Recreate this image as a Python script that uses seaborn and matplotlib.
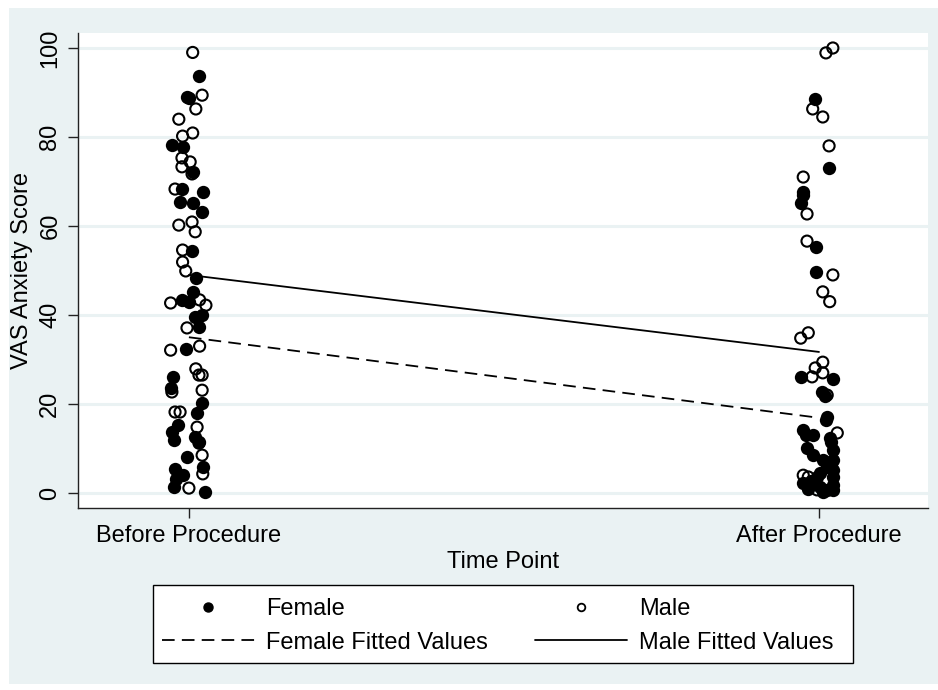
import matplotlib
matplotlib.use("Agg")
import matplotlib.pyplot as plt
import seaborn as sns
import pandas as pd
from matplotlib.lines import Line2D
from matplotlib.patches import Rectangle

# ---------------- data ----------------
time_labels = ["Before Procedure", "After Procedure"]
time_codes = [0, 1]

female_before_vas = [93.6, 88.7, 88.9, 78.2, 77.8, 72.1, 68.3, 67.6, 65.4, 65.2, 63.2, 54.4,
                     48.3, 45.2, 43.4, 43.0, 39.6, 40.0, 37.4, 32.3, 26.1, 23.6, 20.2, 18.0,
                     15.3, 13.7, 11.9, 12.6, 11.5, 8.1, 5.8, 5.4, 4.0, 3.1, 1.3, 0.2]
female_before_jitter = [0.016, 0.000, -0.003, -0.027, -0.010, 0.006, -0.011, 0.022, -0.014, 0.006,
                        0.021, 0.005, 0.011, 0.006, -0.011, 0.000, 0.010, 0.021, 0.016, -0.005,
                        -0.025, -0.029, 0.021, 0.013, -0.017, -0.027, -0.024, 0.010, 0.016,
                        -0.003, 0.022, -0.022, -0.010, -0.021, -0.024, 0.025]

male_before_vas = [99.0, 89.4, 86.3, 84.0, 80.9, 80.2, 75.3, 74.4, 73.3, 71.7, 68.3, 60.9,
                   60.2, 58.7, 54.6, 51.9, 49.9, 42.7, 43.4, 42.2, 37.1, 32.1, 33.0, 27.9,
                   26.5, 26.5, 23.1, 22.7, 18.2, 18.2, 14.8, 11.2, 8.5, 4.3, 1.1]
male_before_jitter = [0.006, 0.021, 0.011, -0.016, 0.006, -0.010, -0.011, 0.002, -0.011, 0.005,
                      -0.022, 0.005, -0.016, 0.010, -0.010, -0.010, -0.005, -0.029, 0.017, 0.027,
                      -0.003, -0.029, 0.017, 0.011, 0.021, 0.016, 0.021, -0.027, -0.022, -0.014,
                      0.013, 0.016, 0.021, 0.022, 0.000]

female_after_vas = [88.5, 73.0, 67.6, 67.0, 65.2, 55.3, 49.6, 26.1, 25.6, 22.7, 21.8, 17.1,
                    16.3, 14.2, 13.0, 13.0, 12.4, 11.5, 10.1, 9.7, 8.5, 7.4, 7.4, 6.5, 5.8,
                    5.2, 4.5, 3.6, 3.6, 2.8, 2.2, 1.8, 1.3, 1.0, 0.7, 0.7, 0.2]
female_after_jitter = [-0.006, 0.016, -0.025, -0.025, -0.029, -0.005, -0.005, -0.029, 0.022,
                       0.005, 0.010, 0.013, 0.011, -0.025, -0.021, -0.010, 0.017, 0.019, -0.019,
                       0.022, -0.010, 0.006, 0.022, 0.019, 0.013, 0.022, 0.002, -0.003, 0.022,
                       -0.013, -0.025, 0.022, 0.002, -0.017, 0.013, 0.022, 0.006]

male_after_vas = [100.0, 98.9, 86.3, 84.5, 78.0, 71.0, 62.7, 56.6, 49.0, 45.2, 43.0, 36.0,
                  34.8, 29.4, 28.1, 27.0, 26.1, 22.0, 13.5, 4.0, 3.6, 1.3, 0.7]
male_after_jitter = [0.022, 0.011, -0.010, 0.006, 0.016, -0.025, -0.019, -0.019, 0.022, 0.006,
                     0.017, -0.017, -0.029, 0.006, -0.006, 0.006, -0.011, 0.013, 0.029, -0.025,
                     -0.017, -0.017, -0.003]

female_fitted = [35.0, 16.9]
male_fitted = [49.0, 31.7]

y_ticks = [0, 20, 40, 60, 80, 100]

# ---------------- build tables ----------------
def make_points(base, vas, jit, sex):
    return pd.DataFrame({"time": [base + j for j in jit], "vas": vas, "sex": sex})

points = pd.concat([
    make_points(time_codes[0], female_before_vas, female_before_jitter, "Female"),
    make_points(time_codes[1], female_after_vas, female_after_jitter, "Female"),
    make_points(time_codes[0], male_before_vas, male_before_jitter, "Male"),
    make_points(time_codes[1], male_after_vas, male_after_jitter, "Male"),
], ignore_index=True)
fitted = pd.DataFrame({"time": time_codes * 2,
                       "fit": female_fitted + male_fitted,
                       "sex": ["Female"] * 2 + ["Male"] * 2})

# ---------------- styling ----------------
sns.set_theme(style="white")
plt.rcParams["font.family"] = ["Liberation Sans", "DejaVu Sans"]
plt.rcParams["text.color"] = "black"
plt.rcParams["axes.labelcolor"] = "black"
plt.rcParams["xtick.color"] = "black"
plt.rcParams["ytick.color"] = "black"
BG = "#EAF2F3"
FS = 17

fig = plt.figure(figsize=(9.38, 6.90), dpi=100, facecolor="white")
fig.patches.append(Rectangle((9 / 938, 1 - 684 / 690), 929 / 938, 676 / 690,
                             transform=fig.transFigure, facecolor=BG,
                             edgecolor="none", zorder=-10))
ax = fig.add_axes([78 / 938, 1 - 508 / 690, 850 / 938, 475 / 690])
ax.set_facecolor("white")

sns.scatterplot(data=points[points.sex == "Female"], x="time", y="vas", ax=ax,
                color="black", marker="o", s=92, linewidth=0, zorder=3, legend=False)
sns.scatterplot(data=points[points.sex == "Male"], x="time", y="vas", ax=ax,
                facecolor="none", edgecolor="black", marker="o", s=64, linewidth=1.5,
                zorder=3, legend=False)
sns.lineplot(data=fitted[fitted.sex == "Female"], x="time", y="fit", ax=ax,
             color="black", linewidth=1.3, zorder=4, legend=False)
sns.lineplot(data=fitted[fitted.sex == "Male"], x="time", y="fit", ax=ax,
             color="black", linewidth=1.3, zorder=4, legend=False)
ax.lines[0].set_dashes([7, 4])

ax.set_xlim(-0.176, 1.173)
ax.set_ylim(-3.37, 103.37)
ax.set_xticks(time_codes)
ax.set_xticklabels(time_labels)
ax.set_yticks(y_ticks)
ax.set_yticklabels([str(v) for v in y_ticks])
for lab in ax.get_yticklabels():
    lab.set_rotation(90)
    lab.set_va("center")

ax.yaxis.grid(True, color=BG, linewidth=2.2)
ax.xaxis.grid(False)
ax.set_axisbelow(True)
for side in ["top", "right"]:
    ax.spines[side].set_visible(False)
for side in ["left", "bottom"]:
    ax.spines[side].set_color("#222222")
    ax.spines[side].set_linewidth(1.0)
ax.tick_params(axis="both", which="major", length=7, width=1.0, color="#222222",
               labelsize=FS, labelcolor="black", direction="out", bottom=True, left=True)
ax.tick_params(axis="y", pad=5)
ax.tick_params(axis="x", pad=5)

ax.set_xlabel("Time Point", fontsize=FS, va="center", color="black")
ax.xaxis.set_label_coords(0.5, -(562 - 508) / 475)
ax.set_ylabel("VAS Anxiety Score", fontsize=FS, va="center", color="black")
ax.yaxis.set_label_coords((22 - 78) / 850, 0.5)

# legend box (white, black border)
fig.patches.append(Rectangle((153 / 938, 1 - 663 / 690), 700 / 938, 78 / 690,
                             transform=fig.transFigure, facecolor="white",
                             edgecolor="black", linewidth=1.0, zorder=1))

handles = [
    Line2D([], [], color="black", marker="o", markersize=6.5, linestyle="none"),
    Line2D([], [], color="black", linestyle=(0, (7, 4)), linewidth=1.3),
    Line2D([], [], color="black", marker="o", markerfacecolor="none", markersize=5.5,
           markeredgewidth=1.3, linestyle="none"),
    Line2D([], [], color="black", linestyle="-", linewidth=1.3),
]
labels = ["Female", "Female Fitted Values", "Male", "Male Fitted Values"]
leg = fig.legend(handles, labels, loc="center", ncol=2, mode="expand",
                 bbox_to_anchor=(153 / 938, 1 - 665 / 690, 690 / 938, 78 / 690),
                 fontsize=FS, frameon=False, handlelength=3.9,
                 handletextpad=0.5, columnspacing=1.7, labelspacing=0.48,
                 borderpad=0.4, borderaxespad=0)
for t in leg.get_texts():
    t.set_color("black")

fig.savefig("out.png", dpi=100, facecolor="white")
